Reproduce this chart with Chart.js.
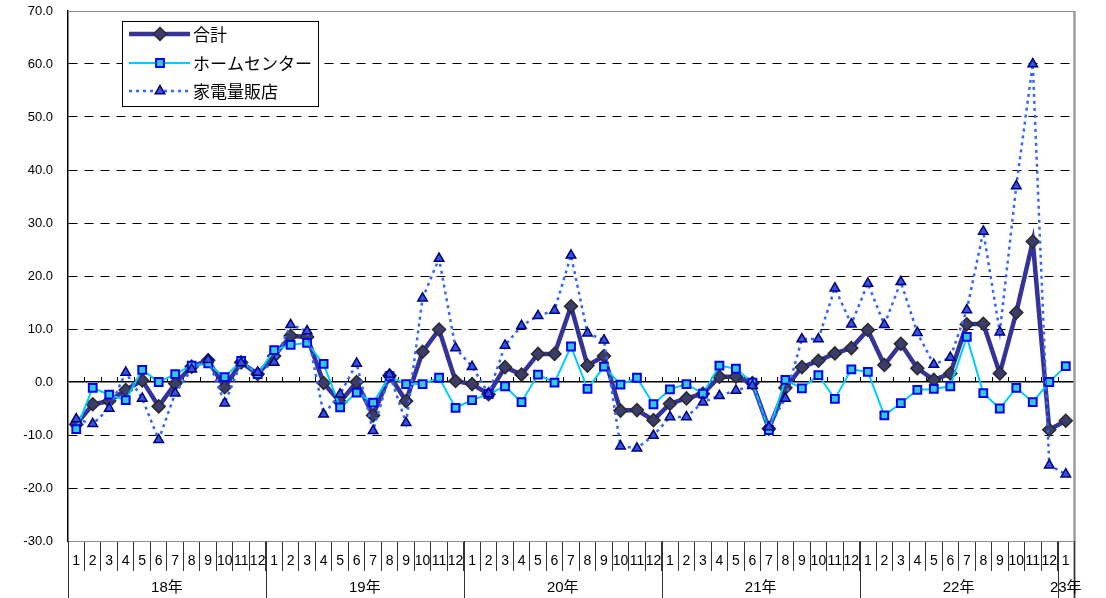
<!DOCTYPE html>
<html>
<head>
<meta charset="utf-8">
<script src="https://cdn.jsdelivr.net/npm/chart.js@4/dist/chart.umd.min.js"></script>
<style>
  html, body { margin: 0; padding: 0; background: #fff; }
  #wrap { width: 1106px; height: 598px; }
</style>
</head>
<body>
<div id="wrap"><canvas id="c" width="1106" height="598"></canvas></div>
<script>
// Year groups on the category axis and how many months each holds
const years = ['18年', '19年', '20年', '21年', '22年', '23年'];
const monthsPerYear = [12, 12, 12, 12, 12, 1];

// Value axis range and tick step
const yMin = -30;
const yMax = 70;
const yStep = 10;

const seriesNames = ['合計', 'ホームセンター', '家電量販店'];

// 合計
const total = [
  -8.0, -4.2, -3.6, -1.5, 0.3, -4.6, -0.3, 2.9, 4.1, -1.0, 3.7, 1.5,
  4.9, 8.7, 8.5, -0.2, -3.8, 0.0, -6.3, 1.2, -3.6, 5.7, 9.9, 0.2,
  -0.4, -2.3, 2.8, 1.4, 5.3, 5.3, 14.3, 3.1, 4.9, -5.4, -5.3, -7.2,
  -4.1, -3.1, -2.2, 1.0, 1.0, -0.2, -8.8, -1.1, 2.8, 4.0, 5.4, 6.4,
  9.8, 3.2, 7.2, 2.6, 0.4, 1.6, 10.9, 11.0, 1.6, 13.1, 26.5, -9.0,
  -7.3
];

// ホームセンター
const homeCenter = [
  -8.9, -1.1, -2.4, -3.4, 2.3, 0.0, 1.5, 3.1, 3.5, 0.9, 4.0, 1.5,
  6.0, 7.0, 7.4, 3.4, -4.8, -2.0, -3.9, 1.1, -0.4, -0.4, 0.8, -4.9,
  -3.4, -2.3, -0.8, -3.8, 1.4, -0.1, 6.7, -1.3, 2.9, -0.5, 0.8, -4.2,
  -1.4, -0.4, -2.2, 3.1, 2.5, -0.1, -9.1, 0.4, -1.2, 1.3, -3.2, 2.4,
  1.9, -6.3, -4.0, -1.5, -1.3, -0.8, 8.5, -2.1, -5.0, -1.1, -3.8, 0.0,
  3.0
];

// 家電量販店
const electronics = [
  -7.0, -7.9, -5.0, 1.8, -3.1, -10.9, -2.1, 2.4, 4.2, -4.0, 3.6, 1.8,
  3.7, 10.8, 9.6, -6.1, -2.3, 3.5, -9.2, 1.4, -7.7, 15.8, 23.3, 6.4,
  2.9, -2.2, 6.9, 10.6, 12.5, 13.5, 23.9, 9.2, 7.9, -12.1, -12.5, -10.1,
  -6.6, -6.6, -3.8, -2.6, -1.6, -0.7, -8.5, -3.1, 8.1, 8.1, 17.7, 10.9,
  18.6, 10.8, 18.9, 9.3, 3.3, 4.6, 13.6, 28.4, 9.4, 37.0, 60.0, -15.7,
  -17.4
];

// Month labels built from the year groups
const categories = [];
years.forEach((y, k) => {
  for (let m = 1; m <= monthsPerYear[k]; m++) categories.push(String(m));
});

const FONT = "'Liberation Sans', 'Noto Sans CJK JP', sans-serif";
const JP_FONT = "'Noto Sans CJK JP', sans-serif";

const styles = [
  { line: '#333399', width: 4.5, dash: [], point: 'rectRot', radius: 6.5, fill: '#3c3c6c', edge: '#2a2a2a', edgeW: 1.5 },
  { line: '#00ccff', width: 2, dash: [], point: 'rect', radius: 5.5, fill: '#33cccc', edge: '#0000ff', edgeW: 2 },
  { line: '#3366ff', width: 2.5, dash: [3, 4], point: 'triangle', radius: 5.5, fill: '#3355dd', edge: '#000080', edgeW: 1.5 }
];

function makeDataset(i, values, order) {
  const s = styles[i];
  return {
    label: seriesNames[i],
    data: values,
    order: order,
    borderColor: s.line,
    borderWidth: s.width,
    borderDash: s.dash,
    tension: 0,
    fill: false,
    pointStyle: s.point,
    pointRadius: s.radius,
    pointBackgroundColor: s.fill,
    pointBorderColor: s.edge,
    pointBorderWidth: s.edgeW
  };
}

// Small marker drawer for the legend samples
function drawMarker(ctx, s, x, y) {
  ctx.save();
  ctx.fillStyle = s.fill;
  ctx.strokeStyle = s.edge;
  ctx.lineWidth = s.edgeW;
  ctx.setLineDash([]);
  ctx.beginPath();
  const r = s.radius;
  if (s.point === 'rectRot') {
    ctx.moveTo(x, y - r); ctx.lineTo(x + r, y); ctx.lineTo(x, y + r); ctx.lineTo(x - r, y);
  } else if (s.point === 'rect') {
    const h = r * Math.SQRT1_2;
    ctx.rect(x - h, y - h, 2 * h, 2 * h);
  } else {
    const a = Math.PI * 2 / 3;
    ctx.moveTo(x, y - r);
    ctx.lineTo(x + Math.sin(a) * r, y - Math.cos(a) * r);
    ctx.lineTo(x + Math.sin(2 * a) * r, y - Math.cos(2 * a) * r);
  }
  ctx.closePath();
  ctx.fill();
  ctx.stroke();
  ctx.restore();
}

const framePlugin = {
  id: 'frame',
  beforeDatasetsDraw(chart) {
    const { ctx } = chart;
    const xs = chart.scales.x, ys = chart.scales.y;
    const y0 = Math.round(ys.getPixelForValue(0));
    const half = (xs.getPixelForValue(1) - xs.getPixelForValue(0)) / 2;
    ctx.save();
    ctx.strokeStyle = '#000';
    ctx.lineWidth = 1;
    ctx.beginPath();
    for (let i = 1; i < categories.length; i++) {
      const x = Math.round(xs.getPixelForValue(i) - half) + 0.5;
      ctx.moveTo(x, y0);
      ctx.lineTo(x, y0 - 5);
    }
    ctx.stroke();
    ctx.restore();
  },
  afterDraw(chart) {
    const { ctx, chartArea: ca } = chart;
    const xs = chart.scales.x;
    const half = (xs.getPixelForValue(1) - xs.getPixelForValue(0)) / 2;
    ctx.save();

    // plot area frame (top and right)
    ctx.strokeStyle = '#8c8c8c';
    ctx.lineWidth = 1;
    ctx.beginPath();
    ctx.moveTo(ca.left, Math.round(ca.top) + 0.5);
    ctx.lineTo(ca.right, Math.round(ca.top) + 0.5);
    ctx.stroke();
    ctx.lineWidth = 2.5;
    ctx.strokeStyle = '#9a9a9a';
    ctx.beginPath();
    ctx.moveTo(ca.right + 0.5, ca.top);
    ctx.lineTo(ca.right + 0.5, chart.height);
    ctx.stroke();

    // year group separators and labels
    let idx = 0;
    const bounds = [0];
    monthsPerYear.forEach(n => { idx += n; bounds.push(idx); });
    ctx.strokeStyle = '#333';
    ctx.lineWidth = 1;
    ctx.beginPath();
    bounds.forEach(b => {
      const x = Math.round(xs.getPixelForValue(b) - half) + 0.5;
      ctx.moveTo(x, ca.bottom);
      ctx.lineTo(x, chart.height);
    });
    ctx.stroke();
    ctx.fillStyle = '#000';
    ctx.font = '15px ' + FONT;
    ctx.textAlign = 'center';
    ctx.textBaseline = 'middle';
    years.forEach((y, k) => {
      const x1 = xs.getPixelForValue(bounds[k]) - half;
      const x2 = xs.getPixelForValue(bounds[k + 1]) - half;
      ctx.fillText(y, (x1 + x2) / 2, 588);
    });

    // legend box
    const bx = 122.5, by = 21.5, bw = 196, bh = 85;
    ctx.fillStyle = '#fff';
    ctx.fillRect(bx, by, bw, bh);
    ctx.strokeStyle = '#000';
    ctx.lineWidth = 1;
    ctx.strokeRect(bx, by, bw, bh);
    const rowsY = [34, 63, 91];
    ctx.font = '17px ' + JP_FONT;
    ctx.textAlign = 'left';
    ctx.textBaseline = 'middle';
    styles.forEach((s, i) => {
      const ry = rowsY[i];
      ctx.strokeStyle = s.line;
      ctx.lineWidth = s.width;
      ctx.setLineDash(s.dash);
      ctx.beginPath();
      ctx.moveTo(129, ry);
      ctx.lineTo(190, ry);
      ctx.stroke();
      ctx.setLineDash([]);
      drawMarker(ctx, s, 160, ry);
      ctx.fillStyle = '#000';
      ctx.fillText(seriesNames[i], 193, ry + 1);
    });
    ctx.restore();
  }
};

new Chart(document.getElementById('c'), {
  type: 'line',
  data: {
    labels: categories,
    datasets: [
      makeDataset(0, total, 2),
      makeDataset(1, homeCenter, 1),
      makeDataset(2, electronics, 0)
    ]
  },
  options: {
    responsive: false,
    animation: false,
    devicePixelRatio: 1,
    events: [],
    layout: { padding: { top: 11, right: 32, left: 0, bottom: 0 } },
    plugins: {
      legend: { display: false },
      tooltip: { enabled: false }
    },
    scales: {
      x: {
        type: 'category',
        offset: true,
        afterFit(scale) {
          scale.height = 57;
          scale.paddingLeft = 0;
          scale.paddingRight = 0;
        },
        grid: {
          display: true,
          drawOnChartArea: false,
          drawTicks: true,
          tickLength: 30,
          offset: true,
          color: '#333',
          lineWidth: 1
        },
        border: { display: true, color: '#8c8c8c', width: 1 },
        ticks: {
          autoSkip: false,
          maxRotation: 0,
          minRotation: 0,
          padding: -18,
          color: '#000',
          font: { family: FONT, size: 14 }
        }
      },
      y: {
        min: yMin,
        max: yMax,
        afterFit(scale) {
          scale.width = 68;
          scale.paddingTop = 0;
          scale.paddingBottom = 0;
        },
        ticks: {
          stepSize: yStep,
          padding: 15,
          color: '#000',
          font: { family: FONT, size: 13 },
          callback: v => Number(v).toFixed(1)
        },
        grid: {
          drawTicks: false,
          color: c => (c.tick && (c.tick.value === yMax || c.tick.value === yMin)) ? 'rgba(0,0,0,0)' : '#000',
          lineWidth: c => (c.tick && c.tick.value === 0) ? 1.5 : 1
        },
        border: {
          display: true,
          color: '#000',
          width: 1.5,
          dash: c => (c.tick && c.tick.value === 0) ? [] : [9, 7]
        }
      }
    }
  },
  plugins: [framePlugin]
});
</script>
</body>
</html>
